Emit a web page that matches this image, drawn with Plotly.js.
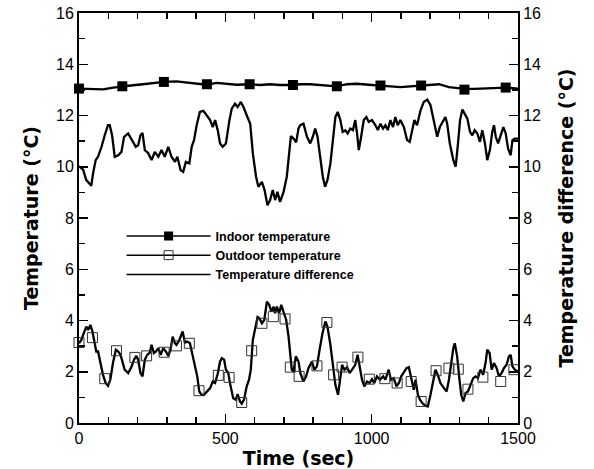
<!DOCTYPE html>
<html>
<head>
<meta charset="utf-8">
<script src="https://cdn.plot.ly/plotly-3.0.1.min.js"></script>
<style>html,body{margin:0;padding:0;background:#fff}#chart{width:594px;height:469px}</style>
</head>
<body>
<div id="chart"></div>
<script>
// Indoor temperature (dense line) and its marker samples
const indoorT = [0,37,82,117,147,185,219,253,290,333,368,402,436,470,505,539,582,619,653,687,731,756,790,824,859,881,916,950,990,1030,1064,1098,1133,1169,1201,1230,1264,1292,1318,1350,1384,1418,1458,1500];
const indoorV = [13.05,13.04,13.02,13.09,13.14,13.18,13.22,13.27,13.31,13.33,13.28,13.22,13.2,13.27,13.22,13.2,13.22,13.19,13.22,13.19,13.19,13.22,13.22,13.18,13.14,13.14,13.22,13.24,13.2,13.18,13.14,13.11,13.14,13.18,13.19,13.22,13.11,13.06,13.04,13.04,13.06,13.09,13.09,13.05];
const indoorMarkT = [0,148,290,437,583,731,881,1030,1169,1317,1458];
const indoorMarkV = [13.05,13.14,13.31,13.22,13.22,13.19,13.14,13.17,13.17,13.01,13.09];

// Outdoor temperature (dense line) and its marker samples
const outdoorT = [0,8,16,25,31,39,46,54,59,65,73,82,91,99,107,116,126,134,142,149,156,168,179,188,196,202,210,217,225,233,242,248,256,263,271,279,288,297,305,313,320,328,333,343,354,362,370,379,388,396,404,411,419,427,436,448,457,465,474,482,488,496,502,510,518,527,536,542,550,556,564,573,581,587,594,602,610,616,625,633,642,650,657,665,670,676,684,691,699,708,716,722,727,733,741,750,756,767,776,784,796,804,813,822,832,842,849,859,868,876,885,893,899,907,916,925,933,944,952,959,967,975,984,993,1001,1009,1018,1028,1039,1047,1058,1066,1075,1085,1093,1101,1110,1119,1127,1135,1144,1150,1158,1165,1173,1184,1192,1201,1210,1218,1226,1235,1247,1256,1264,1272,1279,1284,1292,1300,1306,1313,1321,1329,1338,1347,1355,1363,1372,1381,1389,1395,1403,1410,1418,1427,1435,1444,1452,1461,1469,1475,1481,1489,1500];
const outdoorV = [3.11,3.24,3.5,3.76,3.63,3.83,3.57,2.98,2.79,2.79,2.34,1.88,1.56,1.45,1.69,2.34,2.86,2.79,2.66,2.34,2.08,1.95,2.18,2.47,2.62,2.47,1.95,1.82,2.47,2.66,2.75,3.05,2.73,2.79,2.92,2.66,2.92,2.79,2.62,2.86,3.37,3.11,3.05,3.24,3.57,3.14,3.18,3.11,2.6,2.21,1.82,1.23,1.1,1.1,1.23,1.36,1.62,1.56,1.92,2.4,2.53,2.47,2.08,1.95,1.43,0.97,0.91,1.13,0.84,0.75,0.91,1.43,1.69,2.08,3.24,3.63,4.13,4.09,3.89,4.02,4.74,4.61,4.35,4.54,4.28,4.54,4.28,4.61,4.35,4.02,3.37,2.5,2.08,2.0,2.6,2.4,1.95,1.62,1.82,2.14,2.4,2.08,2.21,2.86,3.5,3.96,3.76,3.05,2.14,1.49,1.1,1.69,2.27,2.08,2.18,1.95,2.08,2.27,2.66,2.27,1.69,1.43,1.62,1.56,1.71,1.56,1.82,1.69,1.82,1.69,2.08,1.69,1.75,1.43,1.56,1.82,2.01,2.14,2.18,1.75,1.3,1.69,1.1,0.91,0.78,0.67,0.65,1.1,1.69,2.08,1.88,1.56,1.36,1.23,1.69,2.34,2.92,3.11,2.6,1.69,1.1,0.84,1.17,1.23,1.49,1.75,1.82,1.75,2.08,1.88,2.34,2.86,2.73,2.08,2.34,2.14,1.82,1.95,2.14,2.27,2.6,2.66,2.21,2.08,2.01];
const outdoorMarkT = [0,46,88,128,191,231,291,333,377,410,476,513,556,590,625,664,704,722,752,813,847,870,899,953,992,1045,1087,1135,1169,1220,1264,1296,1329,1380,1441,1486];
const outdoorMarkV = [3.14,3.33,1.73,2.82,2.56,2.62,2.76,3.01,3.11,1.26,1.86,1.78,0.8,2.82,3.89,4.15,4.06,2.18,1.82,2.23,3.92,1.88,2.18,2.57,1.71,1.73,1.56,1.62,0.84,2.04,2.14,2.1,1.32,1.79,1.62,2.08];

// Temperature difference (right axis)
const diffT = [0,14,25,34,42,48,57,65,77,88,99,105,113,122,134,145,154,168,179,194,202,210,217,225,236,248,259,271,282,293,305,316,328,336,347,356,365,377,385,393,402,413,425,436,448,457,465,474,482,491,502,514,522,533,542,553,562,573,585,594,605,613,625,634,644,653,662,670,678,687,699,710,716,724,733,742,750,756,767,779,790,799,807,815,824,833,841,849,859,868,876,884,893,901,910,918,927,936,944,950,956,964,973,982,990,1001,1013,1021,1030,1039,1047,1055,1064,1073,1081,1089,1098,1110,1121,1130,1138,1146,1155,1167,1178,1190,1201,1210,1218,1224,1233,1244,1252,1258,1267,1279,1287,1295,1302,1310,1318,1327,1336,1344,1352,1361,1370,1378,1387,1395,1404,1412,1418,1424,1432,1441,1450,1458,1466,1475,1481,1489,1500];
const diffV = [10.02,9.89,9.48,9.35,9.26,9.74,10.26,10.39,10.78,11.23,11.62,11.62,11.23,10.39,10.45,10.58,11.17,11.3,11.1,10.78,10.84,11.23,11.32,10.65,10.54,10.26,10.58,10.39,10.65,10.39,10.78,10.39,10.19,10.39,9.87,9.8,10.19,10.13,10.78,11.04,11.62,12.14,12.18,12.01,11.82,11.55,11.82,11.43,10.91,10.78,10.91,11.82,12.27,12.46,12.33,12.53,12.33,12.01,11.68,10.52,9.61,9.22,9.41,9.09,8.5,8.7,9.09,8.7,9.02,8.63,9.02,9.61,10.26,11.2,11.1,10.95,11.5,11.62,11.68,11.17,10.91,11.17,11.49,11.17,10.39,9.61,9.22,9.48,10.13,11.17,11.94,12.14,11.82,11.36,11.42,11.3,11.49,11.43,11.82,11.3,10.65,11.17,11.82,11.94,11.75,11.82,11.62,11.43,11.68,11.49,11.62,11.43,11.82,11.55,11.94,11.62,11.82,11.55,11.04,10.97,11.43,11.82,11.62,12.2,12.53,12.62,12.4,11.94,11.55,11.17,11.55,11.75,11.94,11.68,10.91,10.26,10.0,10.91,11.82,12.23,12.07,11.88,11.36,11.23,11.43,11.3,10.97,11.43,10.91,10.26,10.65,11.36,11.62,11.17,10.91,11.23,11.55,11.3,10.71,10.45,11.04,11.1,11.1];

const names = ['Indoor temperature','Outdoor temperature','Temperature difference'];
const xTickVals = [0,500,1000,1500];
const yTickVals = [0,2,4,6,8,10,12,14,16];

const LINE_W = 2.3;
const data = [
  {x: indoorT, y: indoorV, mode:'lines', line:{color:'#000', width:LINE_W}, showlegend:false},
  {x: indoorMarkT, y: indoorMarkV, mode:'markers', marker:{symbol:'square', size:10, color:'#000'}, showlegend:false, cliponaxis:false},
  {x: outdoorT, y: outdoorV, mode:'lines', line:{color:'#000', width:LINE_W}, showlegend:false},
  {x: outdoorMarkT, y: outdoorMarkV, mode:'markers', marker:{symbol:'square-open', size:10, color:'#333', line:{width:1}}, showlegend:false, cliponaxis:false},
  {x: diffT, y: diffV, mode:'lines', line:{color:'#000', width:LINE_W}, yaxis:'y2', showlegend:false},
  // legend entries
  {x:[null], y:[null], name:names[0], mode:'lines+markers', line:{color:'#000', width:1.5}, marker:{symbol:'square', size:9, color:'#000'}},
  {x:[null], y:[null], name:names[1], mode:'lines+markers', line:{color:'#000', width:1.5}, marker:{symbol:'square-open', size:9, color:'#333', line:{width:1}}},
  {x:[null], y:[null], name:names[2], mode:'lines', line:{color:'#000', width:1.5}}
];

const tickFont = {family:'Liberation Sans, Arial, sans-serif', size:16, color:'#000'};
const titleFont = {family:'DejaVu Sans, sans-serif', size:19, color:'#000', weight:'bold'};

const axisCommon = {
  showline:true, linewidth:2, linecolor:'#000', ticks:'inside', ticklen:9, tickwidth:1.5, tickcolor:'#000',
  showgrid:false, zeroline:false, tickfont:tickFont,
  minor:{ticks:'inside', ticklen:6, tickwidth:1.5, tickcolor:'#000', showgrid:false}
};

const layout = {
  width:594, height:469,
  margin:{l:79, r:76, t:13, b:46},
  paper_bgcolor:'#fff', plot_bgcolor:'#fff',
  showlegend:true,
  legend:{x:0.097, y:0.492, xanchor:'left', yanchor:'top', bgcolor:'rgba(0,0,0,0)', itemwidth:84,
    font:{family:'Liberation Sans, Arial, sans-serif', size:12.5, color:'#000', weight:'bold'}, tracegroupgap:0},
  xaxis: Object.assign({}, axisCommon, {range:[0,1500], tickvals:xTickVals, mirror:'ticks',
    minor:Object.assign({}, axisCommon.minor, {dtick:100, tick0:0}),
    title:{text:'Time (sec)', font:titleFont, standoff:1}}),
  yaxis: Object.assign({}, axisCommon, {range:[0,16], tickvals:yTickVals,
    minor:Object.assign({}, axisCommon.minor, {dtick:1, tick0:0}),
    title:{text:'Temperature (°C)', font:titleFont, standoff:12}}),
  yaxis2: Object.assign({}, axisCommon, {range:[0,16], tickvals:yTickVals, overlaying:'y', side:'right',
    minor:Object.assign({}, axisCommon.minor, {dtick:1, tick0:0}),
    title:{text:'Temperature difference (°C)', font:titleFont, standoff:20}})
};

Plotly.newPlot('chart', data, layout, {displayModeBar:false, staticPlot:true});
</script>
</body>
</html>
